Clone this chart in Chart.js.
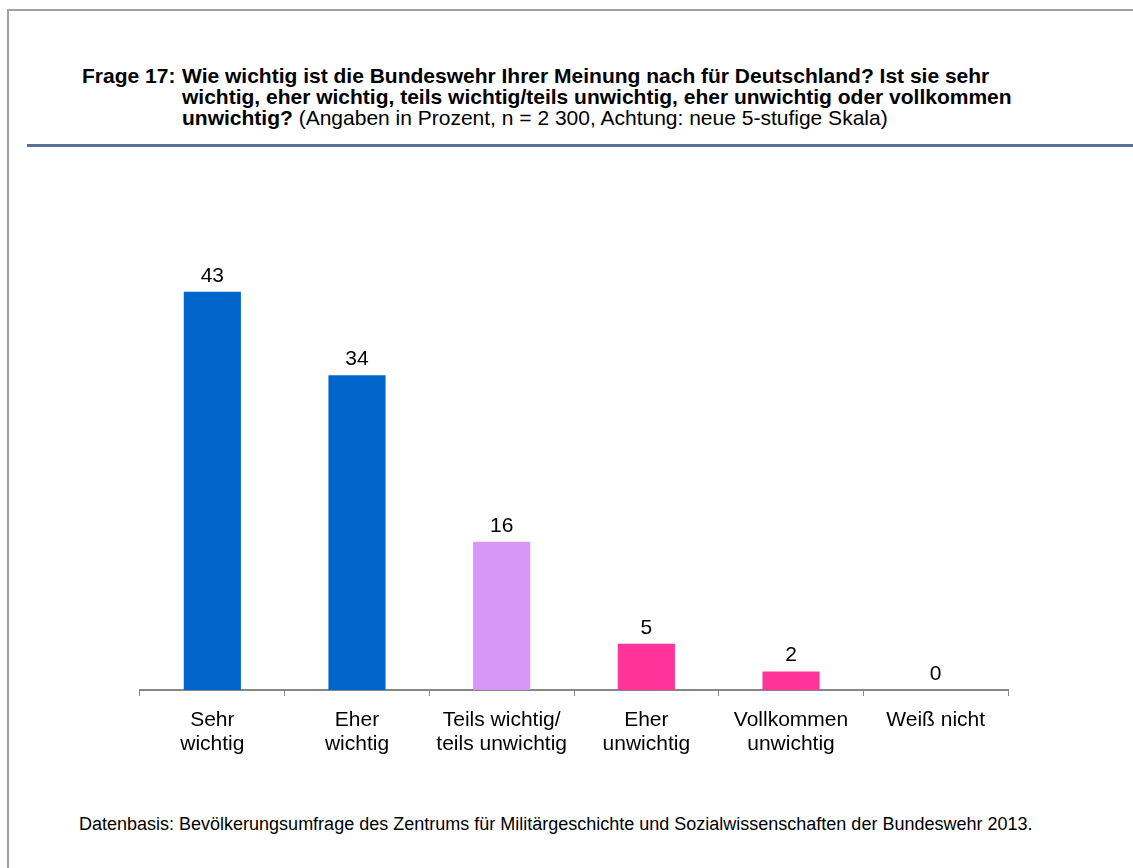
<!DOCTYPE html>
<html>
<head>
<meta charset="utf-8">
<script src="https://cdn.jsdelivr.net/npm/chart.js@4/dist/chart.umd.min.js"></script>
<style>
  html, body { margin: 0; padding: 0; background: #fff; overflow: hidden; }
  #wrap { position: relative; width: 1133px; height: 868px; overflow: hidden; font-family: "Liberation Sans", Arial, sans-serif; background: #fff; }
  #ftop { position: absolute; left: 7px; top: 9px; width: 1140px; height: 2px; background: #a0a0a0; }
  #fleft { position: absolute; left: 7px; top: 9px; width: 2px; height: 870px; background: #a0a0a0; }
  #title { position: absolute; left: 82px; top: 65px; font-size: 21px; line-height: 21px; color: #000; white-space: nowrap; }
  #title .lbl { position: absolute; left: 0; top: 0; font-weight: bold; }
  #title .txt { margin-left: 100px; }
  #title b { font-weight: bold; }
  #rule { position: absolute; left: 27px; top: 144px; width: 1120px; height: 3px; background: #5b6f9b; }
  #foot { position: absolute; left: 79px; top: 813px; font-size: 18px; line-height: 22px; color: #000; white-space: nowrap; }
  #c { position: absolute; left: 0; top: 0; }
</style>
</head>
<body>
<div id="wrap">
<div id="ftop"></div>
<div id="fleft"></div>
<div id="title"><span class="lbl">Frage 17:</span><div class="txt"><b>Wie wichtig ist die Bundeswehr Ihrer Meinung nach für Deutschland? Ist sie sehr</b><br><b>wichtig, eher wichtig, teils wichtig/teils unwichtig, eher unwichtig oder vollkommen</b><br><b>unwichtig?</b> (Angaben in Prozent, n = 2 300, Achtung: neue 5-stufige Skala)</div></div>
<div id="rule"></div>
<div id="foot">Datenbasis: Bevölkerungsumfrage des Zentrums für Militärgeschichte und Sozialwissenschaften der Bundeswehr 2013.</div>
<canvas id="c" width="1133" height="868"></canvas>
</div>
<script>
const categories = [["Sehr", "wichtig"], ["Eher", "wichtig"], ["Teils wichtig/", "teils unwichtig"], ["Eher", "unwichtig"], ["Vollkommen", "unwichtig"], ["Weiß nicht"]];
const values = [43, 34, 16, 5, 2, 0];
const barColors = ["#0066CC", "#0066CC", "#D996F9", "#FF3399", "#FF3399", "#FF3399"];

const valueLabels = {
  id: 'valueLabels',
  afterDatasetsDraw(chart) {
    const ctx = chart.ctx;
    const meta = chart.getDatasetMeta(0);
    ctx.save();
    ctx.font = '21px "Liberation Sans", Arial, sans-serif';
    ctx.fillStyle = '#000';
    ctx.textAlign = 'center';
    ctx.textBaseline = 'alphabetic';
    meta.data.forEach((el, i) => {
      ctx.fillText(String(values[i]), el.x, el.y - 10);
    });
    ctx.restore();
  }
};

new Chart(document.getElementById('c'), {
  type: 'bar',
  data: {
    labels: categories,
    datasets: [{ data: values, backgroundColor: barColors, borderWidth: 0, barPercentage: 0.395, categoryPercentage: 1 }]
  },
  options: {
    responsive: false,
    animation: false,
    events: [],
    layout: { padding: { left: 140, right: 125, top: 227, bottom: 0 } },
    plugins: { legend: { display: false }, tooltip: { enabled: false } },
    scales: {
      y: { display: false, min: 0, max: 50 },
      x: {
        afterFit(s) { s.height = 178; },
        grid: { display: true, drawOnChartArea: false, drawTicks: true, tickLength: 6, color: '#868686', lineWidth: 1 },
        border: { display: true, color: '#868686', width: 2 },
        ticks: { color: '#000', font: { family: '"Liberation Sans", Arial, sans-serif', size: 21, lineHeight: 1.143 }, padding: 12, maxRotation: 0, autoSkip: false }
      }
    }
  },
  plugins: [valueLabels]
});
</script>
</body>
</html>
